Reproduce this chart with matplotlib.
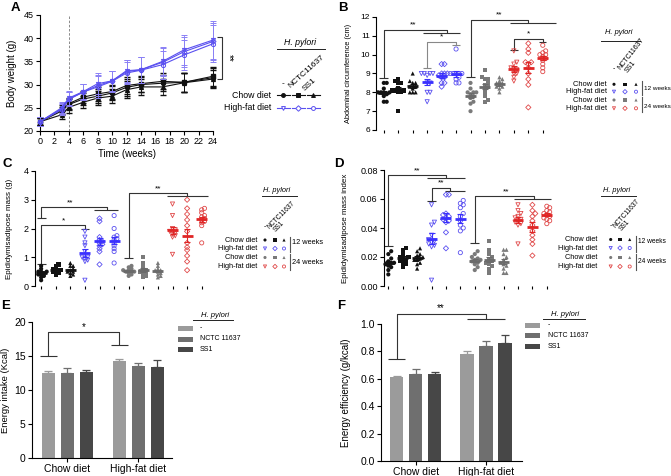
import numpy as np
import matplotlib
matplotlib.use("Agg")
import matplotlib.pyplot as plt
from matplotlib.patches import Rectangle

plt.rcParams['font.family'] = ['Liberation Sans', 'DejaVu Sans']

W, H = 671, 476

# ---- data ----
weeks = [0, 3, 4, 6, 8, 10, 12, 14, 17, 20, 24]
bw_chow_ctrl = [22.0, 24.3, 25.7, 26.9, 27.5, 28.2, 29.4, 30.0, 30.3, 30.5, 31.5]
bw_chow_nctc = [22.0, 24.6, 25.9, 27.3, 28.0, 28.5, 29.8, 30.2, 30.7, 30.5, 31.8]
bw_chow_ss1 = [22.0, 23.5, 25.1, 26.2, 27.1, 27.5, 28.9, 29.5, 29.5, 30.4, 31.2]
bw_hfd_ctrl = [22.0, 25.0, 27.1, 28.5, 30.2, 30.8, 33.0, 33.2, 35.0, 37.5, 39.6]
bw_hfd_nctc = [22.0, 24.8, 26.9, 28.4, 29.8, 30.8, 32.8, 33.2, 34.8, 37.1, 39.3]
bw_hfd_ss1 = [22.0, 24.6, 26.8, 28.4, 29.5, 30.7, 32.5, 33.1, 34.3, 36.4, 38.8]
sd_chow = [0.8, 0.9, 1.2, 1.3, 1.5, 1.5, 1.8, 1.7, 1.7, 2.0, 2.0]
sd_hfd = [1.0, 1.2, 1.5, 1.7, 2.3, 2.2, 2.4, 2.8, 3.0, 3.2, 4.0]

# abdominal circumference (cm): [-, NCTC11637, SS1]
abd_chow12 = [[8.5, 8.5, 8.0, 8.0, 8.0, 8.0, 7.9, 7.8, 7.5, 7.5, 8.2],
              [8.7, 8.6, 8.5, 8.1, 8.0, 8.0, 8.1, 8.2, 7.0, 8.1, 8.5],
              [9.0, 8.5, 8.5, 8.3, 8.2, 8.0, 8.0, 8.3, 8.6, 8.0]]
abd_hfd12 = [[9.0, 9.0, 9.0, 8.9, 8.5, 8.5, 8.0, 8.0, 7.5, 9.0],
             [9.5, 9.5, 9.0, 9.0, 8.9, 8.8, 8.5, 8.5, 8.3, 8.8, 9.0],
             [10.3, 9.0, 9.0, 9.0, 9.0, 8.8, 8.5, 8.5, 8.7, 9.0]]
abd_chow24 = [[8.5, 8.2, 8.0, 7.9, 7.8, 7.7, 7.5, 7.4, 7.0, 8.0, 8.0],
              [9.2, 8.8, 8.7, 8.5, 8.4, 8.3, 8.2, 8.0, 7.8, 7.5, 7.6, 8.7],
              [8.8, 8.7, 8.6, 8.5, 8.4, 8.3, 8.2, 8.0, 8.5, 8.3]]
abd_hfd24 = [[10.2, 9.6, 9.5, 9.2, 9.2, 9.0, 9.0, 8.8, 8.6, 9.3],
             [10.6, 10.3, 10.1, 9.6, 9.6, 9.3, 9.0, 8.7, 8.4, 7.2, 9.5],
             [10.5, 10.2, 10.1, 10.0, 9.9, 9.8, 9.7, 9.5, 9.3, 9.1, 10.0]]

# epididymis adipose mass (g)
epi_chow12 = [[0.7, 0.6, 0.5, 0.5, 0.45, 0.4, 0.4, 0.35, 0.3, 0.2, 0.5],
              [0.75, 0.7, 0.6, 0.55, 0.55, 0.5, 0.5, 0.45, 0.4, 0.6],
              [0.8, 0.7, 0.6, 0.55, 0.5, 0.5, 0.45, 0.4, 0.35, 0.7]]
epi_hfd12 = [[1.9, 1.7, 1.5, 1.4, 1.2, 1.0, 0.95, 0.9, 0.85, 0.2, 1.0],
             [2.35, 2.25, 1.7, 1.6, 1.55, 1.5, 1.45, 1.4, 1.3, 1.2, 0.75],
             [2.45, 2.0, 1.75, 1.7, 1.65, 1.6, 1.5, 1.4, 1.3, 1.2, 0.8]]
epi_chow24 = [[0.7, 0.65, 0.6, 0.55, 0.5, 0.5, 0.45, 0.4, 0.35, 0.5, 0.55],
              [1.0, 0.8, 0.7, 0.6, 0.55, 0.5, 0.45, 0.4, 0.35, 0.3, 0.5],
              [0.8, 0.7, 0.6, 0.55, 0.5, 0.45, 0.4, 0.35, 0.3, 0.55]]
epi_hfd24 = [[2.85, 2.45, 2.0, 1.95, 1.9, 1.85, 1.8, 1.75, 1.7, 1.1, 1.9],
             [3.0, 2.7, 2.5, 2.3, 2.1, 1.9, 1.5, 1.35, 1.25, 1.05, 0.85, 0.55],
             [2.7, 2.65, 2.55, 2.45, 2.4, 2.35, 2.3, 2.25, 2.2, 2.1, 1.5]]

# epididymis adipose mass index
idx_chow12 = [[0.024, 0.022, 0.019, 0.017, 0.016, 0.015, 0.014, 0.013, 0.011, 0.008, 0.016],
              [0.026, 0.025, 0.022, 0.020, 0.019, 0.018, 0.017, 0.016, 0.015, 0.013, 0.020],
              [0.026, 0.024, 0.022, 0.021, 0.020, 0.019, 0.018, 0.016, 0.015, 0.012, 0.018]]
idx_hfd12 = [[0.056, 0.044, 0.042, 0.035, 0.032, 0.031, 0.030, 0.029, 0.028, 0.027, 0.004],
             [0.063, 0.063, 0.050, 0.049, 0.048, 0.047, 0.046, 0.045, 0.044, 0.037, 0.026],
             [0.059, 0.057, 0.056, 0.054, 0.050, 0.048, 0.045, 0.042, 0.040, 0.038, 0.023]]
idx_chow24 = [[0.024, 0.022, 0.020, 0.019, 0.018, 0.017, 0.016, 0.015, 0.013, 0.011, 0.018],
              [0.031, 0.025, 0.022, 0.020, 0.018, 0.017, 0.016, 0.015, 0.014, 0.012, 0.009],
              [0.025, 0.025, 0.022, 0.020, 0.018, 0.016, 0.015, 0.014, 0.012, 0.009, 0.009]]
idx_hfd24 = [[0.056, 0.052, 0.050, 0.048, 0.047, 0.046, 0.045, 0.044, 0.043, 0.042, 0.029],
             [0.056, 0.052, 0.050, 0.048, 0.045, 0.042, 0.038, 0.035, 0.032, 0.029, 0.021],
             [0.055, 0.054, 0.052, 0.051, 0.050, 0.049, 0.048, 0.047, 0.046, 0.045, 0.043]]

diets = ['Chow diet', 'High-fat diet']
strains = ['-', 'NCTC 11637', 'SS1']
intake_chow = [12.5, 12.55, 12.6]
intake_chow_err = [0.25, 0.75, 0.4]
intake_hfd = [14.2, 13.5, 13.45]
intake_hfd_err = [0.4, 0.45, 0.95]
eff_chow = [0.612, 0.634, 0.634]
eff_chow_err = [0.01, 0.037, 0.019]
eff_hfd = [0.783, 0.843, 0.863]
eff_hfd_err = [0.022, 0.03, 0.054]

# ---- styles ----
BLK, BLUE, GRY, RED = '#111111', '#5a50f0', '#7a7a7a', '#e04848'
MEAN_C = [BLK, '#3a30ff', '#6a6a6a', '#e02525']
BAR_C = ['#9b9b9b', '#6f6f6f', '#474747']
dot_styles = []
for grp, (col, fill) in enumerate([(BLK, True), (BLUE, False), (GRY, True), (RED, False)]):
    mks = ['o', 's', '^'] if fill else ['v', 'D', 'o']
    for mk in mks:
        dot_styles.append((mk, fill, col, MEAN_C[grp]))

fig = plt.figure(figsize=(W / 100, H / 100), dpi=100)


def px_axes(l, t, r, b):
    return fig.add_axes([l / W, 1 - b / H, (r - l) / W, (b - t) / H])


def style(ax, fs):
    for s in ['top', 'right']:
        ax.spines[s].set_visible(False)
    for s in ['left', 'bottom']:
        ax.spines[s].set_linewidth(0.8)
    ax.tick_params(labelsize=fs, width=0.8, length=3, pad=1.5)


def ylab(ax, text, px, fs):
    bb = ax.get_position()
    ax.set_ylabel(text, fontsize=fs)
    ax.yaxis.set_label_coords((px / W - bb.x0) / bb.width, 0.5)


def line(ax, xs, ys, c='#333333'):
    ax.plot(xs, ys, color=c, lw=0.8, clip_on=False, solid_capstyle='butt')


def cap(ax, x, y, hw=0.3, c='#333333'):
    line(ax, [x - hw, x + hw], [y, y], c)


def swarm(vals, tol, step):
    # beeswarm: nearest free slot next to the column centre
    vals = np.asarray(vals)
    offs = np.zeros(len(vals))
    placed = []
    for i in np.argsort(vals):
        v = vals[i]
        for k in range(30):
            o = ((k + 1) // 2) * step * (1 if k % 2 else -1)
            if all(((o - po) / step) ** 2 + ((v - pv) / tol) ** 2 >= 0.95 for po, pv in placed):
                break
        placed.append((o, v))
        offs[i] = o
    return offs


def dot_panel(ax, groups, tol, step):
    for i, (vals, (mk, fill, col, mcol)) in enumerate(zip(groups, dot_styles)):
        vals = np.array(vals)
        x = i + swarm(vals, tol, step)
        sz = 7 if mk == 'D' else 9
        if fill:
            ax.scatter(x, vals, s=sz, marker=mk, c=col, edgecolors='none', zorder=3, clip_on=False)
        else:
            ax.scatter(x, vals, s=sz, marker=mk, facecolors='none', edgecolors=col,
                       linewidths=0.6, zorder=3, clip_on=False)
        m = vals.mean()
        se = vals.std(ddof=1) / np.sqrt(len(vals))
        ax.plot([i - 0.38, i + 0.38], [m, m], color=mcol, lw=2, zorder=4, solid_capstyle='butt')
        ax.errorbar(i, m, yerr=se, color=mcol, lw=0.8, capsize=2.2, capthick=0.8, zorder=4)
    ax.spines['bottom'].set_visible(False)
    ax.set_xticks(range(12))
    ax.set_xticklabels([])
    ax.tick_params(axis='x', length=2.5)


# ---- A: body weight ----
axA = px_axes(40, 15, 213, 131)
style(axA, 6.5)
axA.axvline(4, color='#777777', lw=0.6, ls=(0, (3, 2)))
for ys, mk in zip([bw_chow_ctrl, bw_chow_nctc, bw_chow_ss1], ['o', 's', '^']):
    axA.errorbar(weeks, ys, yerr=sd_chow, color=BLK, lw=0.8, elinewidth=0.6, capsize=2,
                 marker=mk, ms=2.8, zorder=3, clip_on=False)
for ys, mk in zip([bw_hfd_ctrl, bw_hfd_nctc, bw_hfd_ss1], ['v', 'D', 'o']):
    axA.errorbar(weeks, ys, yerr=sd_hfd, color=BLUE, ecolor='#8a80f5', lw=0.8, elinewidth=0.6,
                 capsize=2, marker=mk, ms=3 if mk != 'D' else 2.6, mfc='none', mec=BLUE,
                 mew=0.7, zorder=4, clip_on=False)
axA.set_xlim(0, 24)
axA.set_ylim(20, 45)
axA.set_xticks(range(0, 25, 2))
axA.set_yticks(range(20, 46, 5))
axA.set_xlabel('Time (weeks)', fontsize=7, labelpad=2)
ylab(axA, 'Body weight (g)', 17, 7)
line(axA, [24.6, 25.3, 25.3, 24.6], [40.3, 40.3, 31.3, 31.3])
axA.text(26.2, 35.8, '**', rotation=270, ha='center', va='center', fontsize=7)

# ---- B: abdominal circumference ----
axB = px_axes(376, 17, 550, 130)
style(axB, 6)
dot_panel(axB, abd_chow12 + abd_hfd12 + abd_chow24 + abd_hfd24, 0.18, 0.2)
axB.set_xlim(-0.54, 11.5)
axB.set_ylim(6, 12)
ylab(axB, 'Abdominal circumference (cm)', 352, 5.3)
line(axB, [0, 0, 4.4, 4.4], [8.75, 11.33, 11.33, 11.17]); line(axB, [2.7, 5.3], [11.17, 11.17]); cap(axB, 0, 8.75)
axB.text(2.0, 11.38, '**', ha='center', va='bottom', fontsize=6)
line(axB, [3, 3, 5, 5], [9.3, 10.69, 10.69, 10.52], '#888888'); cap(axB, 3, 9.3, c='#888888'); cap(axB, 5, 10.52, 0.25, '#888888')
axB.text(4.0, 10.74, '*', ha='center', va='bottom', fontsize=6)
line(axB, [6, 6, 10, 10], [8.8, 11.85, 11.85, 11.67]); line(axB, [8.7, 11.9], [11.67, 11.67]); cap(axB, 6, 8.8)
axB.text(7.95, 11.9, '**', ha='center', va='bottom', fontsize=6)
line(axB, [9, 9, 11, 11], [10.24, 10.85, 10.85, 10.69]); cap(axB, 9, 10.24); cap(axB, 11, 10.69, 0.25)
axB.text(10.0, 10.9, '*', ha='center', va='bottom', fontsize=6)

# ---- C: epididymis adipose mass ----
axC = px_axes(35, 171, 209, 286)
style(axC, 6.5)
dot_panel(axC, epi_chow12 + epi_hfd12 + epi_chow24 + epi_hfd24, 0.09, 0.19)
axC.set_xlim(-0.42, 11.5)
axC.set_ylim(0, 4)
ylab(axC, 'Epididymisadipose mass (g)', 13, 5.8)
line(axC, [0, 0, 3, 3], [0.78, 2.12, 2.12, 2.0]); cap(axC, 0, 0.78); cap(axC, 3, 2.0)
axC.text(1.5, 2.14, '*', ha='center', va='bottom', fontsize=6)
line(axC, [0, 0, 4.5, 4.5], [2.36, 2.74, 2.74, 2.63]); line(axC, [3.6, 5.3], [2.63, 2.63]); cap(axC, 0, 2.36)
axC.text(2.0, 2.77, '**', ha='center', va='bottom', fontsize=6)
line(axC, [6, 6, 10, 10], [0.96, 3.24, 3.24, 3.12]); line(axC, [8.6, 11.4], [3.12, 3.12]); cap(axC, 6, 0.96)
axC.text(8.0, 3.27, '**', ha='center', va='bottom', fontsize=6)

# ---- D: epididymis adipose mass index ----
axD = px_axes(384, 170, 554, 286)
style(axD, 6.5)
dot_panel(axD, idx_chow12 + idx_hfd12 + idx_chow24 + idx_hfd24, 0.0024, 0.2)
axD.set_xlim(-0.3, 11.5)
axD.set_ylim(0, 0.08)
axD.set_yticks(np.arange(0, 0.081, 0.02))
axD.yaxis.set_major_formatter(matplotlib.ticker.FormatStrFormatter('%.2f'))
ylab(axD, 'Epididymisadipose mass index', 349, 5.8)
line(axD, [0, 0, 4.0, 4.0], [0.0276, 0.0766, 0.0766, 0.0743]); line(axD, [2.7, 5.35], [0.0743] * 2); cap(axD, 0, 0.0276)
axD.text(2.0, 0.0772, '**', ha='center', va='bottom', fontsize=6)
line(axD, [3, 3, 4.3, 4.3], [0.0586, 0.0678, 0.0678, 0.0657]); line(axD, [3.9, 5.3], [0.0657] * 2); cap(axD, 3, 0.0586)
axD.text(3.65, 0.0684, '**', ha='center', va='bottom', fontsize=6)
line(axD, [6, 6, 10.1, 10.1], [0.030, 0.062, 0.062, 0.0598]); line(axD, [8.7, 11.3], [0.0598] * 2); cap(axD, 6, 0.030)
axD.text(8.2, 0.0627, '**', ha='center', va='bottom', fontsize=6)


# ---- E / F: bars ----
def bar_panel(ax, chow, chow_err, hfd, hfd_err, off, width):
    for j in range(3):
        xs = [0 + off[j], 1 + off[j]]
        vals = [chow[j], hfd[j]]
        errs = [chow_err[j], hfd_err[j]]
        ax.bar(xs, vals, width=width, color=BAR_C[j], zorder=2)
        ax.errorbar(xs, vals, yerr=[[0, 0], errs], fmt='none', ecolor=BAR_C[j],
                    elinewidth=0.9, capsize=3, capthick=0.9, zorder=1)
    ax.set_xticks([0, 1])
    ax.set_xticklabels(diets)


axE = px_axes(32, 322, 172, 458)
style(axE, 7.5)
bar_panel(axE, intake_chow, intake_chow_err, intake_hfd, intake_hfd_err, [-0.268, 0, 0.268], 0.19)
axE.set_xlim(-0.5, 1.475)
axE.set_ylim(0, 20)
axE.set_yticks(range(0, 21, 5))
ylab(axE, 'Energy intake (Kcal)', 10, 6.8)
line(axE, [-0.268, -0.268, 0.732, 0.732], [15.0, 18.5, 18.5, 16.6]); cap(axE, -0.268, 15.0, 0.12); cap(axE, 0.732, 16.6, 0.12)
axE.text(0.23, 18.55, '*', ha='center', va='bottom', fontsize=7)

axF = px_axes(381, 324, 522, 461)
style(axF, 7.5)
bar_panel(axF, eff_chow, eff_chow_err, eff_hfd, eff_hfd_err, [-0.271, 0, 0.271], 0.19)
axF.set_xlim(-0.496, 1.514)
axF.set_ylim(0, 1.0)
axF.set_yticks(np.arange(0, 1.01, 0.2))
axF.yaxis.set_major_formatter(matplotlib.ticker.FormatStrFormatter('%.1f'))
ylab(axF, 'Energy efficiency (g/kcal)', 351, 7)
line(axF, [-0.271, -0.271, 1.0, 1.0], [0.746, 1.075, 1.075, 1.04]); line(axF, [0.729, 1.271], [1.04] * 2); cap(axF, -0.271, 0.746, 0.12)
axF.text(0.36, 1.082, '**', ha='center', va='bottom', fontsize=7)

# ---- overlay: panel letters and legends (pixel coordinates) ----
ov = fig.add_axes([0, 0, 1, 1], zorder=10)
ov.set_xlim(0, W)
ov.set_ylim(H, 0)
ov.axis('off')

for lab, (x, y) in zip('ABCDEF', [(15, 8), (343, 8), (7, 164), (339, 164), (6, 306), (341, 306)]):
    ov.text(x, y, lab, fontsize=9.5, fontweight='bold', ha='center', va='center')


def pylori_title(xc, y, x0, x1, yl, fs):
    ov.text(xc, y, 'H. pylori', style='italic', fontsize=fs, ha='center', va='center')
    ov.plot([x0, x1], [yl, yl], color='#222222', lw=0.7)


def rot_labels(pos, rot, fs):
    ov.text(pos[0][0], pos[0][1], '-', fontsize=fs, ha='center', va='center')
    for (x, y), t in zip(pos[1:], ['NCTC11637', 'SS1']):
        ov.text(x, y, t, fontsize=fs, rotation=rot, rotation_mode='anchor', ha='left', va='baseline')


# A legend
pylori_title(300, 42.5, 277, 325, 48.5, 6.3)
rot_labels([(283.3, 84), (290, 88), (305, 91)], 42, 6)
for r, (name, y) in enumerate(zip(diets, [95, 107.7])):
    ov.text(271.5, y, name, fontsize=6.3, ha='right', va='center')
    for j, x in enumerate([283.3, 298.3, 313.3]):
        mk, fill, col, _ = dot_styles[r * 3 + j]
        ov.plot([x - 6.5, x + 6.5], [y, y], color=col, lw=0.8)
        ov.plot([x], [y], marker=mk, ms=2.8, color=col, mfc=col if fill else 'white', mew=0.7)


def week_legend(title, ul, rot_pos, rot, rows_y, txt_r, cols, bar_x, wk_y, fs, rfs, wfs):
    pylori_title(title[0], title[1], ul[0], ul[1], ul[2], fs)
    rot_labels(rot_pos, rot, rfs)
    for r, y in enumerate(rows_y):
        ov.text(txt_r, y, diets[r % 2], fontsize=fs, ha='right', va='center')
        for j, x in enumerate(cols):
            mk, fill, col, _ = dot_styles[r * 3 + j]
            if fill:
                ov.scatter([x], [y], s=5, marker=mk, c=col, edgecolors='none')
            else:
                ov.scatter([x], [y], s=5, marker=mk, facecolors='none', edgecolors=col, linewidths=0.6)
    for k in range(2):
        ov.plot([bar_x, bar_x], [rows_y[2 * k] - 3.5, rows_y[2 * k + 1] + 3.5], color='#555555', lw=0.8)
        ov.text(bar_x + 2, wk_y[k], ['12 weeks', '24 weeks'][k], fontsize=wfs, ha='left', va='center')


week_legend((619, 33), (601, 640, 41), [(614, 69), (620, 70), (628, 73)], 52,
            [84.3, 91.7, 100, 108.3], 607, [614, 625, 636], 642, [88.3, 106.5], 5.4, 5.0, 4.6)
week_legend((277, 191), (262, 297, 196), [(265, 227), (269, 229), (276, 232)], 45,
            [240, 248.5, 257.5, 266.5], 257.3, [265, 275, 284], 290, [243, 262.5], 5.3, 4.8, 5.3)
week_legend((617, 191), (601, 636, 196), [(610.7, 226), (615, 228), (622, 231)], 48,
            [239.5, 248, 257.5, 266.5], 597.3, [610.7, 620, 629.7], 635.5, [241.7, 261.7], 5.3, 4.8, 4.8)


def bar_legend(title, ul, px, rows_y, tx):
    pylori_title(title[0], title[1], ul[0], ul[1], ul[2], 5.5)
    for j, y in enumerate(rows_y):
        ov.add_patch(Rectangle((px, y - 2.5), 15, 5, color=BAR_C[j], lw=0))
        ov.text(tx, y, strains[j], fontsize=5, ha='left', va='center')


bar_legend((215, 315.5), (193, 233, 320), 178, [328, 339, 349.5], 200)
bar_legend((565, 314.5), (543, 585, 318.5), 525, [325, 335.7, 346.7], 548)

fig.savefig('out.png', dpi=100)
